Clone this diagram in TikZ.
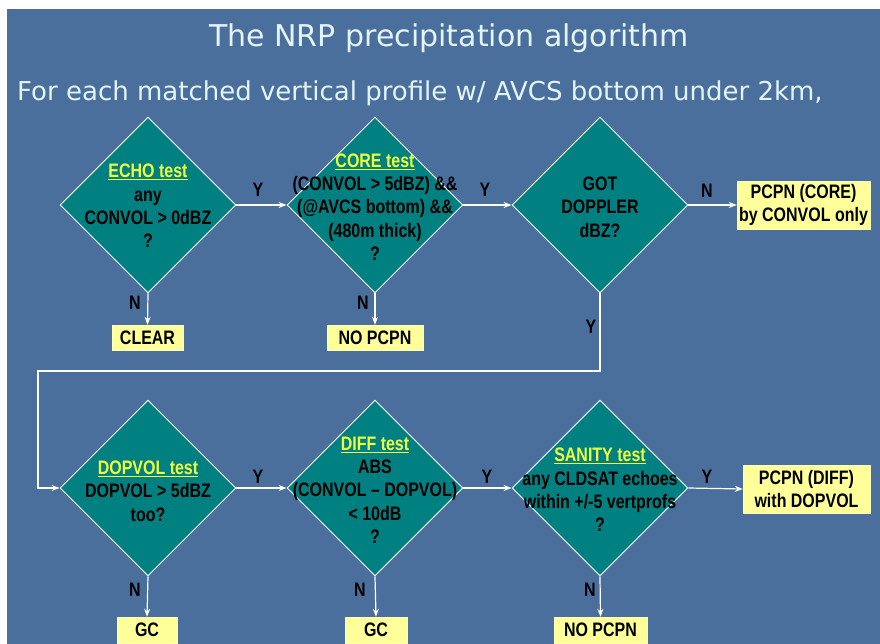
\documentclass[tikz,border=0pt]{standalone}
\usepackage{fontspec}
\setmainfont{Liberation Sans}[FakeStretch=0.82]
\newfontfamily\headfont{DejaVu Sans}
\usetikzlibrary{shapes.geometric,arrows.meta}

\definecolor{slate}{RGB}{74,111,157}
\definecolor{tealfill}{RGB}{0,128,128}
\definecolor{resyellow}{RGB}{255,255,153}
\definecolor{headyellow}{RGB}{240,255,60}
\definecolor{titlecol}{RGB}{228,245,250}

\newcommand\testname[1]{\textcolor{headyellow}{\underline{#1}}}

\tikzset{
  decision/.style={diamond, aspect=1, draw=white, line width=0.9pt,
    fill=tealfill, minimum width=176pt, minimum height=176pt, inner sep=0pt},
  dtext/.style={align=center, text=black, inner sep=0pt,
    font=\fontsize{19.5}{23.3}\selectfont\bfseries},
  result/.style={fill=resyellow, draw=resyellow!70!white, line width=0.4pt,
    align=center, inner sep=0pt, text=black,
    font=\fontsize{19.5}{23}\selectfont\bfseries},
  yn/.style={inner sep=0pt, text=black, font=\fontsize{19.5}{23}\selectfont\bfseries},
  flow/.style={draw=white, line width=1.2pt, -{Stealth[length=8pt,width=6pt]}},
  heading/.style={inner sep=0pt, text=titlecol, anchor=base west}
}

\begin{document}
\begin{tikzpicture}[x=1pt,y=-1pt]
% slide background with its white margin
\fill[white] (0,0) rectangle (880,644);
\fill[slate] (7,9) rectangle (880,644);
\useasboundingbox (0,0) rectangle (880,644);

% headings
\node[heading, font=\headfont\fontsize{30}{34}\selectfont] (title) at (209,47)
  {The NRP precipitation algorithm};
\node[heading, font=\headfont\fontsize{26}{31}\selectfont] (sub) at (17,101)
  {For each matched vertical profile w/ AVCS bottom under 2km,};

% decisions, top row
\node[decision] (d1) at (148,205) {};
\node[decision] (d2) at (375,205) {};
\node[decision] (d3) at (600,205) {};
% decisions, bottom row
\node[decision] (d4) at (148,488) {};
\node[decision] (d5) at (375,488) {};
\node[decision] (d6) at (600,488) {};

% decision texts
\node[dtext] (t1) at (148,206) {\testname{ECHO test}\\any\\CONVOL > 0dBZ\\?};
\node[dtext] (t2) at (375,207) {\testname{CORE test}\\(CONVOL > 5dBZ) \&\&\\(@AVCS bottom) \&\&\\(480m thick)\\?};
\node[dtext] (t3) at (600,207) {GOT\\DOPPLER\\dBZ?};
\node[dtext] (t4) at (148,491) {\testname{DOPVOL test}\\DOPVOL > 5dBZ\\too?};
\node[dtext] (t5) at (375,490) {\testname{DIFF test}\\ABS\\(CONVOL – DOPVOL)\\< 10dB\\?};
\node[dtext] (t6) at (600,490) {\testname{SANITY test}\\any CLDSAT echoes\\within +/-5 vertprofs\\?};

% outcomes
\node[result, minimum width=133pt, minimum height=48pt] (core) at (803.5,205) {PCPN (CORE)\\by CONVOL only};
\node[result, minimum width=71pt, minimum height=25pt] (clear) at (147.5,337.5) {CLEAR};
\node[result, minimum width=96pt, minimum height=25pt] (nop1) at (375,337.5) {NO PCPN};
\node[result, minimum width=127pt, minimum height=48pt] (diff) at (806.5,489) {PCPN (DIFF)\\with DOPVOL};
\node[result, minimum width=60pt, minimum height=26pt] (gc1) at (147,630) {GC};
\node[result, minimum width=62pt, minimum height=26pt] (gc2) at (376,630) {GC};
\node[result, minimum width=93pt, minimum height=26pt] (nop2) at (600.5,630) {NO PCPN};

% connectors
\draw[flow] (d1.east) -- (d2.west);
\draw[flow] (d2.east) -- (d3.west);
\draw[flow] (d3.east) -- (core.west);
\draw[flow] (d1.south) -- (clear.north);
\draw[flow] (d2.south) -- (nop1.north);
\coordinate (loopL) at (38,371);
\draw[flow] (d3.south) |- (loopL) |- (d4.west);
\draw[flow] (d4.east) -- (d5.west);
\draw[flow] (d5.east) -- (d6.west);
\draw[flow] (d6.east) -- (diff.west);
\draw[flow] (d4.south) -- (gc1.north);
\draw[flow] (d5.south) -- (gc2.north);
\draw[flow] (d6.south) -- (nop2.north);

% branch labels
\node[yn] (y1) at (258,190) {Y};
\node[yn] (y2) at (485,190) {Y};
\node[yn] (n3) at (707,191) {N};
\node[yn] (y3) at (591,327) {Y};
\node[yn] (n1) at (135,303) {N};
\node[yn] (n2) at (363,303) {N};
\node[yn] (y4) at (258,477) {Y};
\node[yn] (y5) at (487,477) {Y};
\node[yn] (y6) at (707,477) {Y};
\node[yn] (n4) at (135,590) {N};
\node[yn] (n5) at (360,590) {N};
\node[yn] (n6) at (590,590) {N};
\end{tikzpicture}
\end{document}
